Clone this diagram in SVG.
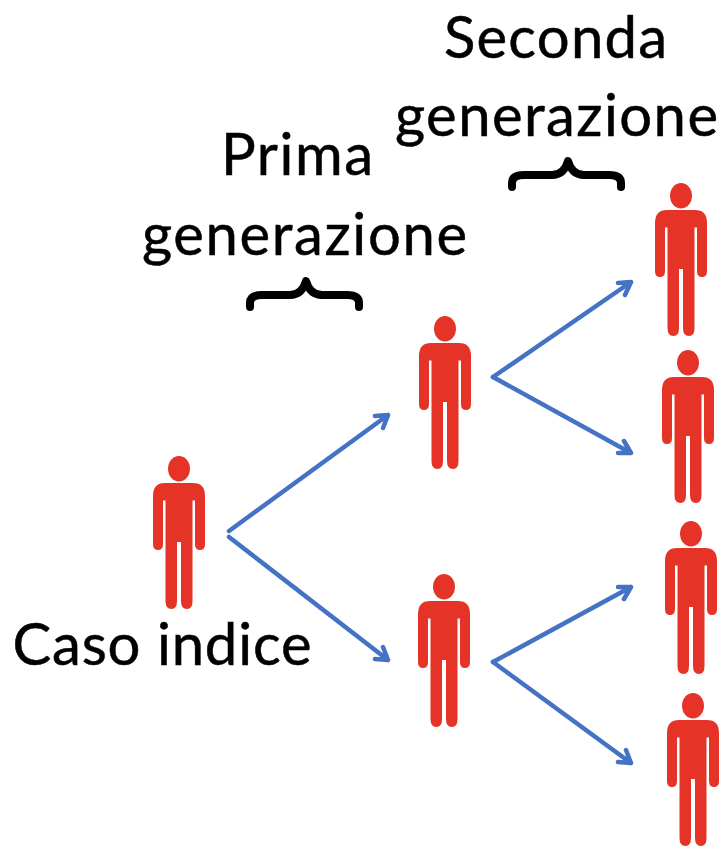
<svg xmlns="http://www.w3.org/2000/svg" width="724" height="846" viewBox="0 0 724 846">
<style>
.t{font-family:Lato,"Liberation Sans",sans-serif;font-size:58px;fill:#000;stroke:#000;stroke-width:.5}
.c{fill:none;stroke:#4472c4;stroke-width:4.500;stroke-linecap:round;stroke-linejoin:round}
.b{fill:none;stroke:#000;stroke-width:8;stroke-linecap:round;stroke-linejoin:round}
.p{fill:#e53427}
</style>
<defs>
<symbol id="person" overflow="visible">
<ellipse class="p" cx="0" cy="12.800" rx="11" ry="12.800"/>
<path class="p" d="M-14 27H14Q26 27 26 40V88Q26 94 21 94Q16 94 16 88V44.500H13.500V145Q13.500 153 8 153Q2 153 2 145V86H-2V145Q-2 153 -7.500 153Q-13.500 153 -13.500 145V44.500H-16V88Q-16 94 -21 94Q-26 94 -26 88V40Q-26 27 -14 27Z"/>
</symbol>
</defs>
<g id="connectors">
<path class="c" d="M229 531L388 415M375 416L388 415L383 428"/>
<path class="c" d="M229 537L388 660M383 647L388 660L375 659"/>
<path class="c" d="M493 377L631 282M618 283L631 282L625 295"/>
<path class="c" d="M493 377L631 453M618 453L631 453L624 441"/>
<path class="c" d="M493 662L631 587M618 587L631 587L624 599"/>
<path class="c" d="M493 662L631 763M618 762L631 763L626 750"/>
</g>
<g id="node-index"><use href="#person" x="179" y="456"/><text class="t" x="12.500" y="665" textLength="299">Caso indice</text></g>
<g id="node-first-1"><use href="#person" x="445" y="316"/></g>
<g id="node-first-2"><use href="#person" x="444" y="574"/></g>
<g id="node-second-1"><use href="#person" x="681" y="183"/></g>
<g id="node-second-2"><use href="#person" x="688" y="350"/></g>
<g id="node-second-3"><use href="#person" x="691" y="521"/></g>
<g id="node-second-4"><use href="#person" x="693" y="693"/></g>
<g id="label-first">
<text class="t" x="221" y="175" textLength="152">Prima</text>
<text class="t" x="142" y="255" textLength="325">generazione</text>
<path class="b" d="M250 307V303Q250 295 262 295H290Q302 295 306 281Q310 295 322 295H347Q359 295 359 303V307"/>
</g>
<g id="label-second">
<text class="t" x="444" y="58" textLength="223">Seconda</text>
<text class="t" x="395" y="136" textLength="323">generazione</text>
<path class="b" d="M512 187V183Q512 175 524 175H552Q564 175 568 161Q572 175 584 175H609Q621 175 621 183V187"/>
</g>
</svg>
